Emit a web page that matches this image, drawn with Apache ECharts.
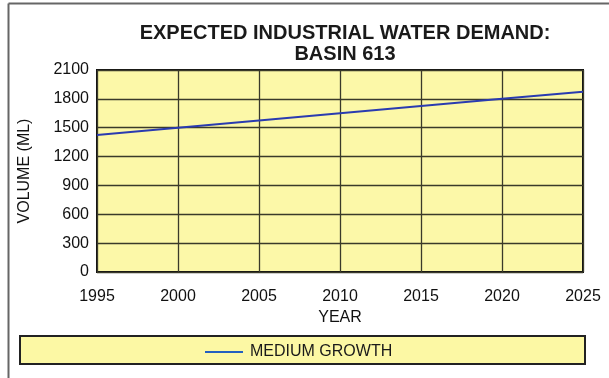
<!DOCTYPE html>
<html>
<head>
<meta charset="utf-8">
<script src="https://cdn.jsdelivr.net/npm/echarts@6/dist/echarts.min.js"></script>
<style>
html,body{margin:0;padding:0;background:#fff;}
#chart{width:609px;height:378px;}
</style>
</head>
<body>
<div id="chart"></div>
<script>
const years = [1995, 2000, 2005, 2010, 2015, 2020, 2025];
const mediumGrowth = [1425, 1500, 1575, 1650, 1725, 1800, 1875];
const yTicks = [0, 300, 600, 900, 1200, 1500, 1800, 2100];
const titleLines = ['EXPECTED INDUSTRIAL WATER DEMAND:', 'BASIN 613'];
const seriesName = 'MEDIUM GROWTH';

const chart = echarts.init(document.getElementById('chart'), null, {renderer: 'canvas'});
const font = '"Liberation Sans", Arial, Helvetica, sans-serif';
const gridColor = '#3a3a2a';

chart.setOption({
  animation: false,
  backgroundColor: '#ffffff',
  title: {
    text: titleLines.join('\n'),
    left: 340,
    textAlign: 'center',
    top: 18,
    textStyle: {fontFamily: font, fontSize: 20, fontWeight: 'bold', color: '#1a1a1a', lineHeight: 21}
  },
  graphic: [
    {type: 'line', shape: {x1: 8.5, y1: 3.5, x2: 8.5, y2: 378}, style: {stroke: '#666', lineWidth: 2}},
    {type: 'line', shape: {x1: 8.5, y1: 3.5, x2: 609, y2: 3.5}, style: {stroke: '#666', lineWidth: 2}},
    {type: 'rect', shape: {x: 20, y: 336, width: 565, height: 28}, style: {fill: '#fcf8a4', stroke: '#222', lineWidth: 2}, z: 0}
  ],
  legend: {
    data: [seriesName],
    left: 200,
    top: 339,
    itemWidth: 38,
    itemHeight: 2,
    itemGap: 10,
    icon: 'rect',
    textStyle: {fontFamily: font, fontSize: 16, color: '#1a1a1a', padding: [0, 0, 0, 2]},
    z: 5
  },
  grid: {left: 97, right: 26, top: 70, bottom: 106, show: true, backgroundColor: '#fcf8a8', borderColor: '#111', borderWidth: 2},
  xAxis: {
    type: 'value',
    min: 1995, max: 2025, interval: 5,
    name: 'YEAR',
    nameLocation: 'middle',
    nameGap: 37,
    nameTextStyle: {fontFamily: font, fontSize: 16, color: '#111'},
    axisLine: {show: false},
    axisTick: {show: false},
    axisLabel: {fontFamily: font, fontSize: 16, color: '#111', margin: 17, formatter: v => String(v)},
    splitLine: {show: true, lineStyle: {color: gridColor, width: 1.3}}
  },
  yAxis: {
    type: 'value',
    min: 0, max: 2100, interval: 300,
    name: 'VOLUME (ML)',
    nameLocation: 'middle',
    nameGap: 64,
    nameTextStyle: {fontFamily: font, fontSize: 16, color: '#111'},
    axisLine: {show: false},
    axisTick: {show: false},
    axisLabel: {fontFamily: font, fontSize: 16, color: '#111', margin: 8,
      formatter: v => yTicks.includes(v) ? String(v) : ''},
    splitLine: {show: true, lineStyle: {color: gridColor, width: 1.3}}
  },
  series: [{
    name: seriesName,
    type: 'line',
    data: years.map((y, i) => [y, mediumGrowth[i]]),
    showSymbol: false,
    lineStyle: {color: '#2a3bb0', width: 2},
    itemStyle: {color: '#2460c0'},
    z: 3
  }]
});
</script>
</body>
</html>
